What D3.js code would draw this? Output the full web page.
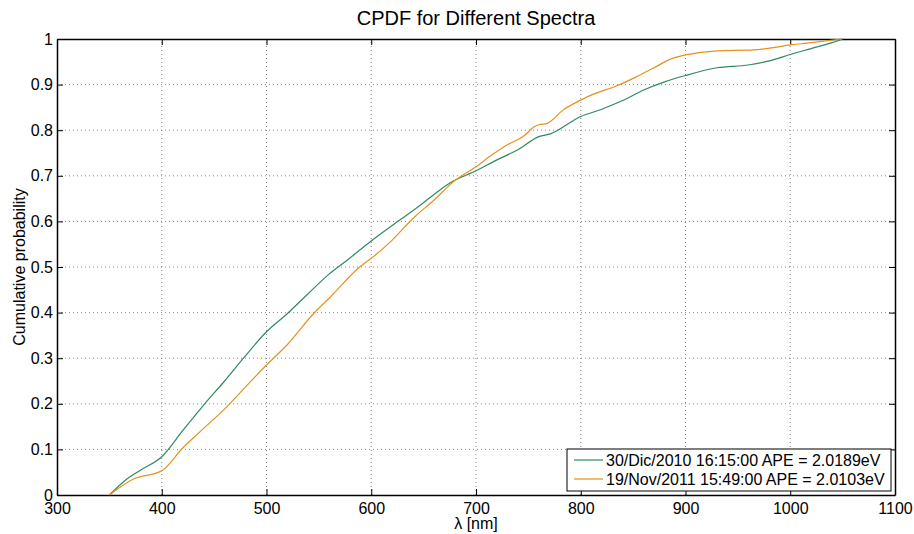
<!DOCTYPE html>
<html lang="en">
<head>
    <meta charset="UTF-8">
    <title>CPDF for Different Spectra</title>
    <script src="https://cdn.jsdelivr.net/npm/d3@7/dist/d3.min.js"></script>
    <style>
        body { margin: 0; background: #fff; }
        svg { font-family: "Liberation Sans", Arial, sans-serif; }
        .grid line { stroke: #888; stroke-dasharray: 1 3; stroke-width: 1; }
    </style>
</head>
<body>
<script>
    // 画布大小
    const width = 914;
    const height = 534;
    const margin = {left: 57, right: 19, top: 39, bottom: 39};

    // 数据
    const xTicks = [300, 400, 500, 600, 700, 800, 900, 1000, 1100];
    const yTicks = [0, 0.1, 0.2, 0.3, 0.4, 0.5, 0.6, 0.7, 0.8, 0.9, 1];

    const greenLambda = [350, 365, 380, 400, 420, 441, 460, 478, 500, 520, 540, 560, 577, 600, 620, 640, 660, 675, 700, 720, 740, 760, 771, 800, 820, 840, 860, 880, 900, 930, 960, 980, 1000, 1020, 1040, 1050];
    const greenProb   = [0, 0.032, 0.055, 0.084, 0.141, 0.200, 0.250, 0.300, 0.358, 0.398, 0.442, 0.485, 0.515, 0.557, 0.591, 0.624, 0.659, 0.684, 0.711, 0.735, 0.757, 0.786, 0.792, 0.830, 0.846, 0.865, 0.888, 0.906, 0.920, 0.937, 0.943, 0.952, 0.966, 0.979, 0.992, 1.0];

    const orangeLambda = [350, 373, 400, 420, 440, 465, 480, 500, 520, 545, 560, 589, 600, 620, 640, 660, 680, 700, 716, 730, 745, 756, 760, 768, 783, 800, 812, 834, 853, 870, 888, 900, 930, 965, 984, 1000, 1016, 1049];
    const orangeProb   = [0, 0.035, 0.053, 0.103, 0.146, 0.200, 0.237, 0.285, 0.330, 0.398, 0.432, 0.500, 0.519, 0.559, 0.607, 0.647, 0.690, 0.720, 0.747, 0.768, 0.786, 0.808, 0.812, 0.815, 0.844, 0.866, 0.879, 0.897, 0.917, 0.937, 0.958, 0.965, 0.974, 0.976, 0.981, 0.987, 0.991, 1.0];

    const seriesNames = ['30/Dic/2010 16:15:00 APE = 2.0189eV', '19/Nov/2011 15:49:00 APE = 2.0103eV'];
    const seriesColors = ['#2f8a5f', '#e8901c'];

    let svg = d3.select('body')
        .append('svg')
        .attr('width', width)
        .attr('height', height);

    let x = d3.scaleLinear().domain([300, 1100]).range([margin.left, width - margin.right]);
    let y = d3.scaleLinear().domain([0, 1]).range([height - margin.bottom, margin.top]);

    // 网格
    let grid = svg.append('g').attr('class', 'grid');
    grid.selectAll('.vx').data(xTicks.slice(1, -1)).enter().append('line')
        .attr('x1', d => x(d)).attr('x2', d => x(d))
        .attr('y1', y(0)).attr('y2', y(1));
    grid.selectAll('.hy').data(yTicks.slice(1, -1)).enter().append('line')
        .attr('x1', x(300)).attr('x2', x(1100))
        .attr('y1', d => y(d)).attr('y2', d => y(d));

    // 坐标轴 (刻度向内)
    svg.append('g').attr('transform', `translate(0,${y(0)})`)
        .call(d3.axisBottom(x).tickValues(xTicks).tickFormat(d3.format('d')).tickSizeInner(-6).tickSizeOuter(0).tickPadding(8))
        .attr('font-size', 16).attr('font-family', null);
    svg.append('g').attr('transform', `translate(0,${y(1)})`)
        .call(d3.axisTop(x).tickValues(xTicks).tickSizeInner(-6).tickSizeOuter(0).tickFormat(''));
    svg.append('g').attr('transform', `translate(${x(300)},0)`)
        .call(d3.axisLeft(y).tickValues(yTicks).tickFormat(d3.format('~g')).tickSizeInner(-6).tickSizeOuter(0).tickPadding(4))
        .attr('font-size', 16).attr('font-family', null);
    svg.append('g').attr('transform', `translate(${x(1100)},0)`)
        .call(d3.axisRight(y).tickValues(yTicks).tickSizeInner(-6).tickSizeOuter(0).tickFormat(''));
    svg.selectAll('.domain').attr('stroke', '#000').attr('stroke-width', 1.5);
    svg.selectAll('.tick line').attr('stroke', '#000');
    svg.selectAll('.tick text').attr('fill', '#000');

    // 曲线
    let line = d3.line().x(d => x(d[0])).y(d => y(d[1])).curve(d3.curveMonotoneX);
    let series = [d3.zip(greenLambda, greenProb), d3.zip(orangeLambda, orangeProb)];
    svg.selectAll('.series').data(series).enter().append('path')
        .attr('d', line)
        .attr('fill', 'none')
        .attr('stroke', (d, i) => seriesColors[i])
        .attr('stroke-width', 1.2);

    // 标题和轴标签
    svg.append('text').attr('x', (x(300) + x(1100)) / 2).attr('y', 25)
        .attr('text-anchor', 'middle').attr('font-size', 20).text('CPDF for Different Spectra');
    svg.append('text').attr('x', (x(300) + x(1100)) / 2).attr('y', 529)
        .attr('text-anchor', 'middle').attr('font-size', 16).text('λ [nm]');
    svg.append('text').attr('transform', `translate(25,${(y(0) + y(1)) / 2}) rotate(-90)`)
        .attr('text-anchor', 'middle').attr('font-size', 16).text('Cumulative probability');

    // 图例
    let legend = svg.append('g').attr('transform', 'translate(567,449)');
    legend.append('rect').attr('width', 324).attr('height', 42)
        .attr('fill', '#fff').attr('stroke', '#000').attr('stroke-width', 1);
    seriesNames.forEach((name, i) => {
        let row = legend.append('g').attr('transform', `translate(0,${11 + i * 19})`);
        row.append('line').attr('x1', 7).attr('x2', 36).attr('y1', 0).attr('y2', 0)
            .attr('stroke', seriesColors[i]).attr('stroke-width', 1.2);
        row.append('text').attr('x', 39).attr('y', 6).attr('font-size', 16).text(name);
    });
</script>
</body>
</html>
